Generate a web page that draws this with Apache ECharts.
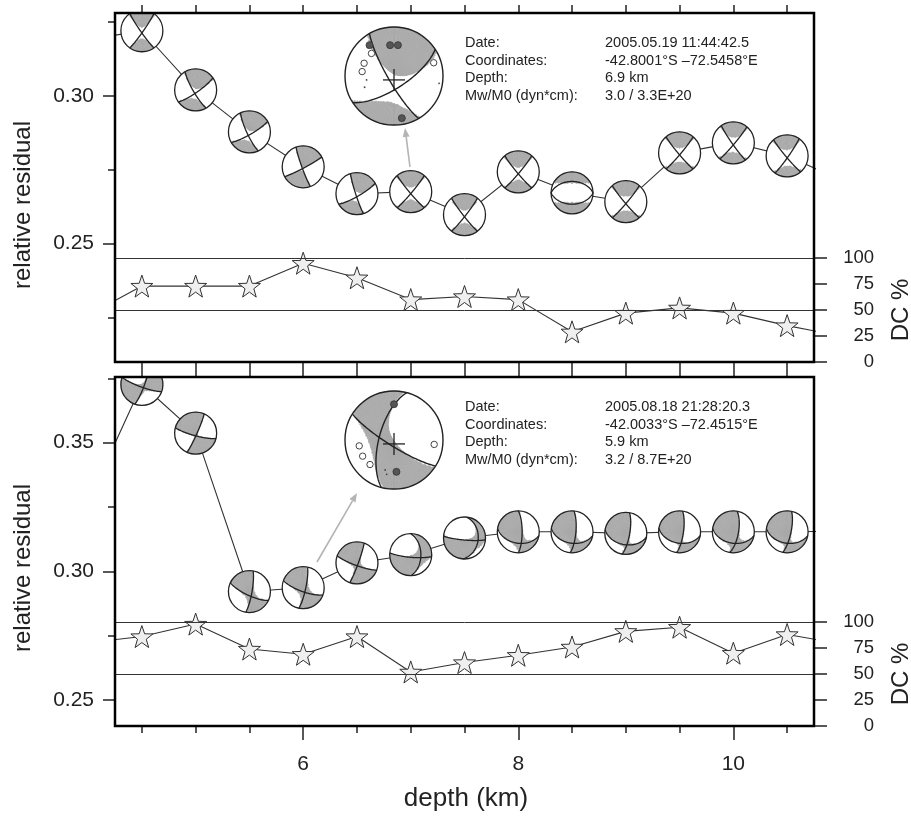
<!DOCTYPE html>
<html>
<head>
<meta charset="utf-8">
<title>relative residual / DC % vs depth</title>
<script src="https://cdn.jsdelivr.net/npm/echarts@6.0.0/dist/echarts.min.js"></script>
<style>
    html, body { margin: 0; padding: 0; background: #fff; }
    #chart { width: 911px; height: 816px; }
</style>
</head>
<body>
<div id="chart"></div>
<script>
// depths of the trial sources (4.0 and 11.0 lie just outside the plotted range)
var depths = [4.0, 4.5, 5.0, 5.5, 6.0, 6.5, 7.0, 7.5, 8.0, 8.5, 9.0, 9.5, 10.0, 10.5, 11.0];

// upper panel: event 2005.05.19
var residualA = [0.319, 0.322, 0.302, 0.2878, 0.276, 0.2669, 0.2676, 0.2598, 0.2743, 0.2672, 0.2642, 0.2807, 0.2841, 0.2797, 0.2715];
var dcA = [45, 73, 73, 73, 95, 81, 60, 63, 60, 29, 47, 52, 47, 35, 25];
// mechanisms for 4.5 .. 10.5 km: strike1, dip1, strike2, dip2, azimuth inside a compressive quadrant
var mechA = [
    [145, 85, 35, 85, 0],
    [150, 80, 55, 80, 10],
    [155, 80, 60, 80, 15],
    [160, 85, 62, 85, 20],
    [162, 85, 60, 80, 25],
    [140, 85, 40, 85, 180],
    [142, 85, 38, 85, 180],
    [140, 85, 40, 85, 180],
    [90, 45, 270, 45, 0],
    [140, 85, 40, 85, 180],
    [140, 85, 40, 85, 180],
    [145, 85, 40, 85, 180],
    [140, 85, 35, 85, 180]
];

// lower panel: event 2005.08.18
var residualB = [0.327, 0.3726, 0.3537, 0.2922, 0.2937, 0.3033, 0.3065, 0.313, 0.3154, 0.3154, 0.3148, 0.3154, 0.3154, 0.3154, 0.3156];
var dcB = [80, 86, 98, 74, 69, 86, 52, 61, 68, 76, 91, 95, 70, 88, 79];
var mechB = [
    [20, 80, 110, 80, 240],
    [24, 85, 105, 80, 330],
    [10, 80, 115, 75, 330],
    [12, 80, 110, 75, 330],
    [20, 85, 110, 80, 330],
    [95, 80, 0, 50, 225],
    [95, 82, 5, 35, 225],
    [0, 75, 100, 45, 300],
    [5, 75, 100, 45, 300],
    [10, 75, 100, 45, 300],
    [8, 75, 100, 45, 300],
    [10, 70, 100, 45, 300],
    [12, 75, 100, 45, 300]
];
// sign of the non double couple part, per panel
var clvdSignA = -1, clvdSignB = 1;

// best solutions shown enlarged
var insetMechA = [150, 80, 57, 70, 15], insetDcA = 60;
var insetMechB = [195, 65, 122, 80, 330], insetDcB = 69;
// station polarities (east, south) in units of the inset radius
var stationsA = {
    up: [[-0.50, -0.63], [-0.08, -0.63], [0.08, -0.63], [0.16, 0.86]],
    down: [[-0.46, -0.46], [-0.61, -0.26], [-0.65, -0.09], [0.81, -0.27]],
    dots: [[-0.56, 0.08], [-0.60, 0.23], [0.92, 0.15]]
};
var stationsB = {
    up: [[0.0, -0.73], [0.05, 0.65]],
    down: [[-0.71, 0.12], [-0.64, 0.33], [-0.49, 0.50], [0.82, 0.09]],
    dots: [[-0.18, 0.61], [-0.15, 0.70]]
};

var infoLabels = ['Date:', 'Coordinates:', 'Depth:', 'Mw/M0 (dyn*cm):'];
var infoA = ['2005.05.19 11:44:42.5', '-42.8001°S –72.5458°E', '6.9 km', '3.0 / 3.3E+20'];
var infoB = ['2005.08.18 21:28:20.3', '-42.0033°S –72.4515°E', '5.9 km', '3.2 / 8.7E+20'];

var xRange = [4.25, 10.75];
var xMajor = [6, 8, 10];
var xMinor = [4.5, 5, 5.5, 6, 6.5, 7, 7.5, 8, 8.5, 9, 9.5, 10, 10.5];
var rangeA = [0.21, 0.328], majorA = [0.25, 0.30], minorA = [0.225, 0.275, 0.325];
var rangeB = [0.24, 0.3755], majorB = [0.25, 0.30, 0.35], minorB = [0.275, 0.325, 0.375];
var dcGuides = [50, 100];

var FONT = '"Liberation Sans", Arial, Helvetica, sans-serif';
var INK = '#222';
var GRAY = '#aaaaaa';
var D2R = Math.PI / 180;

// layout
var PL = 115, PW = 699;
var topA = 13, topB = 377, PH = 349;
var dcTopA = 258, dcTopB = 622, DH = 104;

function normal(strike, dip) {
    var f = strike * D2R, d = dip * D2R;
    return [-Math.sin(d) * Math.sin(f), Math.sin(d) * Math.cos(f), -Math.cos(d)];
}
function dot(a, b) { return a[0] * b[0] + a[1] * b[1] + a[2] * b[2]; }
function cross(a, b) {
    var c = [a[1] * b[2] - a[2] * b[1], a[2] * b[0] - a[0] * b[2], a[0] * b[1] - a[1] * b[0]];
    var l = Math.sqrt(dot(c, c)) || 1;
    return [c[0] / l, c[1] / l, c[2] / l];
}
// lower hemisphere, equal area: px east, py north
function ray(px, py) {
    var r = Math.min(Math.sqrt(px * px + py * py), 1);
    var inc = 2 * Math.asin(r / Math.SQRT2);
    var az = Math.atan2(px, py);
    return [Math.sin(inc) * Math.cos(az), Math.sin(inc) * Math.sin(az), Math.cos(inc)];
}

function beachball(cx, cy, R, mech, dc, clvd, nA, nR, lw) {
    var n1 = normal(mech[0], mech[1]), n2 = normal(mech[2], mech[3]);
    var b = cross(n1, n2);
    var ga = mech[4] * D2R;
    var g = ray(0.85 * Math.sin(ga), 0.85 * Math.cos(ga));
    var sgn = dot(g, n1) * dot(g, n2) > 0 ? 1 : -1;
    var eps = (1 - dc / 100) / 2;
    var lam = clvd * eps / (1 - eps / 2);
    function amp(px, py) {
        var v = ray(px, py), q = dot(v, b);
        return 2 * sgn * dot(v, n1) * dot(v, n2) + lam * (1.5 * q * q - 0.5);
    }
    var out = [{ type: 'circle', shape: { cx: cx, cy: cy, r: R }, style: { fill: '#fff' } }];
    for (var k = 0; k < nA; k++) {
        var a0 = k * 360 / nA, a1 = (k + 1) * 360 / nA, am = (a0 + a1) / 2 * D2R;
        var start = -1;
        for (var j = 0; j <= nR; j++) {
            var on = false;
            if (j < nR) {
                var rr = (j + 0.5) / nR;
                on = amp(rr * Math.sin(am), rr * Math.cos(am)) > 0;
            }
            if (on && start < 0) start = j;
            if (!on && start >= 0) {
                out.push({
                    type: 'sector',
                    shape: { cx: cx, cy: cy, r0: start / nR * R, r: j / nR * R, startAngle: (a0 - 90) * D2R, endAngle: (a1 - 90) * D2R },
                    style: { fill: GRAY, stroke: GRAY, lineWidth: 0.6 }
                });
                start = -1;
            }
        }
    }
    // nodal planes
    [[mech[0], mech[1]], [mech[2], mech[3]]].forEach(function (p) {
        var f = p[0] * D2R, d = p[1] * D2R;
        var sd = [Math.cos(f), Math.sin(f), 0];
        var dd = [Math.cos(d) * Math.cos(f + Math.PI / 2), Math.cos(d) * Math.sin(f + Math.PI / 2), Math.sin(d)];
        var pts = [];
        for (var t = 0; t <= 180; t += 3) {
            var c = Math.cos(t * D2R), s = Math.sin(t * D2R);
            var v = [c * sd[0] + s * dd[0], c * sd[1] + s * dd[1], c * sd[2] + s * dd[2]];
            var inc = Math.acos(Math.max(-1, Math.min(1, v[2])));
            var az = Math.atan2(v[1], v[0]);
            var r = Math.SQRT2 * Math.sin(inc / 2);
            pts.push([cx + R * r * Math.sin(az), cy - R * r * Math.cos(az)]);
        }
        out.push({ type: 'polyline', shape: { points: pts }, style: { fill: null, stroke: INK, lineWidth: lw } });
    });
    out.push({ type: 'circle', shape: { cx: cx, cy: cy, r: R }, style: { fill: 'none', stroke: INK, lineWidth: lw } });
    return out;
}

function insetBall(cx, cy, R, mech, dc, clvd, st) {
    var out = beachball(cx, cy, R, mech, dc, clvd, 180, 48, 1.4);
    st.dots.forEach(function (p) {
        out.push({ type: 'circle', shape: { cx: cx + p[0] * R, cy: cy + p[1] * R, r: 0.9 }, style: { fill: '#444' } });
    });
    st.down.forEach(function (p) {
        out.push({ type: 'circle', shape: { cx: cx + p[0] * R, cy: cy + p[1] * R, r: 3.2 }, style: { fill: '#fff', stroke: '#444', lineWidth: 1 } });
    });
    st.up.forEach(function (p) {
        out.push({ type: 'circle', shape: { cx: cx + p[0] * R, cy: cy + p[1] * R, r: 3.5 }, style: { fill: '#555', stroke: '#333', lineWidth: 0.8 } });
    });
    var py = cy + 0.08 * R;
    out.push({ type: 'line', shape: { x1: cx - 11, y1: py, x2: cx + 11, y2: py }, style: { stroke: INK, lineWidth: 1.3 } });
    out.push({ type: 'line', shape: { x1: cx, y1: py - 11, x2: cx, y2: py + 11 }, style: { stroke: INK, lineWidth: 1.3 } });
    return { type: 'group', z: 10, children: out };
}

function arrow(x1, y1, x2, y2) {
    var dx = x2 - x1, dy = y2 - y1, l = Math.sqrt(dx * dx + dy * dy);
    var ux = dx / l, uy = dy / l, hl = 9, hw = 3.5;
    var bx = x2 - ux * hl, by = y2 - uy * hl;
    return {
        type: 'group', z: 10, children: [
            { type: 'line', shape: { x1: x1, y1: y1, x2: bx, y2: by }, style: { stroke: '#b4b4b4', lineWidth: 1.6 } },
            { type: 'polygon', shape: { points: [[x2, y2], [bx - uy * hw, by + ux * hw], [bx + uy * hw, by - ux * hw]] }, style: { fill: '#b4b4b4' } }
        ]
    };
}

function starPath() {
    var s = 'path://';
    for (var k = 0; k < 10; k++) {
        var a = (-90 + k * 36) * D2R, r = k % 2 ? 0.4 : 1;
        s += (k ? 'L' : 'M') + (r * Math.cos(a)).toFixed(3) + ' ' + (r * Math.sin(a)).toFixed(3);
    }
    return s + 'Z';
}

function xAxisFor(gridIndex, position, ticks, tickLength, labels) {
    return {
        type: 'value', gridIndex: gridIndex, position: position,
        min: xRange[0], max: xRange[1],
        axisLine: { show: false },
        splitLine: { show: false },
        axisTick: { show: ticks.length > 0, customValues: ticks, length: tickLength, lineStyle: { color: INK, width: 1.5 } },
        axisLabel: { show: labels, customValues: ticks, margin: 28, fontSize: 21, color: INK, fontFamily: FONT }
    };
}
function resAxis(gridIndex, range, ticks, tickLength, labels) {
    return {
        type: 'value', gridIndex: gridIndex, position: 'left',
        min: range[0], max: range[1],
        axisLine: { show: false },
        splitLine: { show: false },
        axisTick: { customValues: ticks, length: tickLength, lineStyle: { color: INK, width: 1.5 } },
        axisLabel: {
            show: labels, customValues: ticks, margin: 21, fontSize: 21, color: INK, fontFamily: FONT,
            formatter: function (v) { return v.toFixed(2); }
        }
    };
}
function dcAxis(gridIndex) {
    return {
        type: 'value', gridIndex: gridIndex, position: 'right',
        min: 0, max: 100, interval: 25,
        axisLine: { show: false },
        splitLine: { show: false },
        axisTick: { length: 13, lineStyle: { color: INK, width: 1.5 } },
        axisLabel: { align: 'right', margin: 60, fontSize: 18.5, color: INK, fontFamily: FONT }
    };
}

function pairs(ys) {
    return depths.map(function (d, i) { return [d, ys[i]]; });
}
function ballData(ys) {
    var out = [];
    for (var i = 1; i < depths.length - 1; i++) out.push([depths[i], ys[i], i - 1]);
    return out;
}

function panelSeries(xi, yi, dxi, dyi, res, dc, mech, clvd) {
    return [
        {
            type: 'line', xAxisIndex: xi, yAxisIndex: yi, z: 2,
            data: pairs(res), symbol: 'none',
            lineStyle: { color: '#333', width: 1.1 }
        },
        {
            type: 'custom', xAxisIndex: xi, yAxisIndex: yi, z: 3, clip: true,
            data: ballData(res),
            renderItem: function (params, api) {
                var c = api.coord([api.value(0), api.value(1)]);
                var i = api.value(2);
                return { type: 'group', children: beachball(c[0], c[1], 21, mech[i], dc[i + 1], clvd, 72, 18, 1.3) };
            }
        },
        {
            type: 'line', xAxisIndex: dxi, yAxisIndex: dyi, z: 1, data: [],
            markLine: {
                silent: true, symbol: 'none', label: { show: false },
                lineStyle: { color: '#333', width: 1, type: 'solid' },
                data: dcGuides.map(function (v) { return { yAxis: v }; })
            }
        },
        {
            type: 'line', xAxisIndex: dxi, yAxisIndex: dyi, z: 3,
            data: pairs(dc),
            symbol: starPath(), symbolSize: 22,
            itemStyle: { color: '#efefef', borderColor: '#333', borderWidth: 1 },
            lineStyle: { color: '#333', width: 1.1 }
        }
    ];
}

function infoText(x0, x1, y0, values) {
    var out = [];
    infoLabels.forEach(function (t, k) {
        var y = y0 + k * 17.5;
        out.push({ type: 'text', z: 10, style: { text: t, x: x0, y: y, fill: INK, font: '14.5px ' + FONT, verticalAlign: 'middle' } });
        out.push({ type: 'text', z: 10, style: { text: values[k], x: x1, y: y, fill: INK, font: '14.5px ' + FONT, verticalAlign: 'middle' } });
    });
    return out;
}

var chart = echarts.init(document.getElementById('chart'));

var graphics = [
    { type: 'rect', z: 20, shape: { x: PL, y: topA, width: PW, height: PH }, style: { fill: 'none', stroke: '#000', lineWidth: 2.5 } },
    { type: 'rect', z: 20, shape: { x: PL, y: topB, width: PW, height: PH }, style: { fill: 'none', stroke: '#000', lineWidth: 2.5 } },
    { type: 'text', z: 10, x: 23, y: 205, rotation: Math.PI / 2, style: { text: 'relative residual', fill: INK, font: '24px ' + FONT, align: 'center', verticalAlign: 'middle' } },
    { type: 'text', z: 10, x: 23, y: 568, rotation: Math.PI / 2, style: { text: 'relative residual', fill: INK, font: '24px ' + FONT, align: 'center', verticalAlign: 'middle' } },
    { type: 'text', z: 10, x: 901, y: 310, rotation: Math.PI / 2, style: { text: 'DC %', fill: INK, font: '24px ' + FONT, align: 'center', verticalAlign: 'middle' } },
    { type: 'text', z: 10, x: 901, y: 674, rotation: Math.PI / 2, style: { text: 'DC %', fill: INK, font: '24px ' + FONT, align: 'center', verticalAlign: 'middle' } },
    { type: 'text', z: 10, x: 466, y: 799, style: { text: 'depth (km)', fill: INK, font: '26px ' + FONT, align: 'center', verticalAlign: 'middle' } },
    insetBall(394, 76, 49, insetMechA, insetDcA, clvdSignA, stationsA),
    insetBall(394, 440, 49, insetMechB, insetDcB, clvdSignB, stationsB),
    arrow(410, 167, 405, 128),
    arrow(317, 562, 357, 493)
].concat(infoText(465, 605, 43, infoA), infoText(465, 605, 407, infoB));

var option = {
    animation: false,
    backgroundColor: '#fff',
    grid: [
        { left: PL, width: PW, top: topA, height: PH },
        { left: PL, width: PW, top: dcTopA, height: DH },
        { left: PL, width: PW, top: topB, height: PH },
        { left: PL, width: PW, top: dcTopB, height: DH }
    ],
    xAxis: [
        xAxisFor(0, 'bottom', xMinor, 8, false),   // 0
        xAxisFor(0, 'top', xMinor, 8, false),      // 1
        { type: 'value', gridIndex: 1, min: xRange[0], max: xRange[1], show: false }, // 2
        xAxisFor(2, 'bottom', xMinor, 7, false),   // 3
        xAxisFor(2, 'bottom', xMajor, 14, true),   // 4
        xAxisFor(2, 'top', xMinor, 8, false),      // 5
        { type: 'value', gridIndex: 3, min: xRange[0], max: xRange[1], show: false }  // 6
    ],
    yAxis: [
        resAxis(0, rangeA, majorA, 12, true),   // 0
        resAxis(0, rangeA, minorA, 7, false),   // 1
        dcAxis(1),                              // 2
        resAxis(2, rangeB, majorB, 12, true),   // 3
        resAxis(2, rangeB, minorB, 7, false),   // 4
        dcAxis(3)                               // 5
    ],
    graphic: graphics,
    series: panelSeries(0, 0, 2, 2, residualA, dcA, mechA, clvdSignA)
        .concat(panelSeries(3, 3, 6, 5, residualB, dcB, mechB, clvdSignB))
};

chart.setOption(option);
</script>
</body>
</html>
